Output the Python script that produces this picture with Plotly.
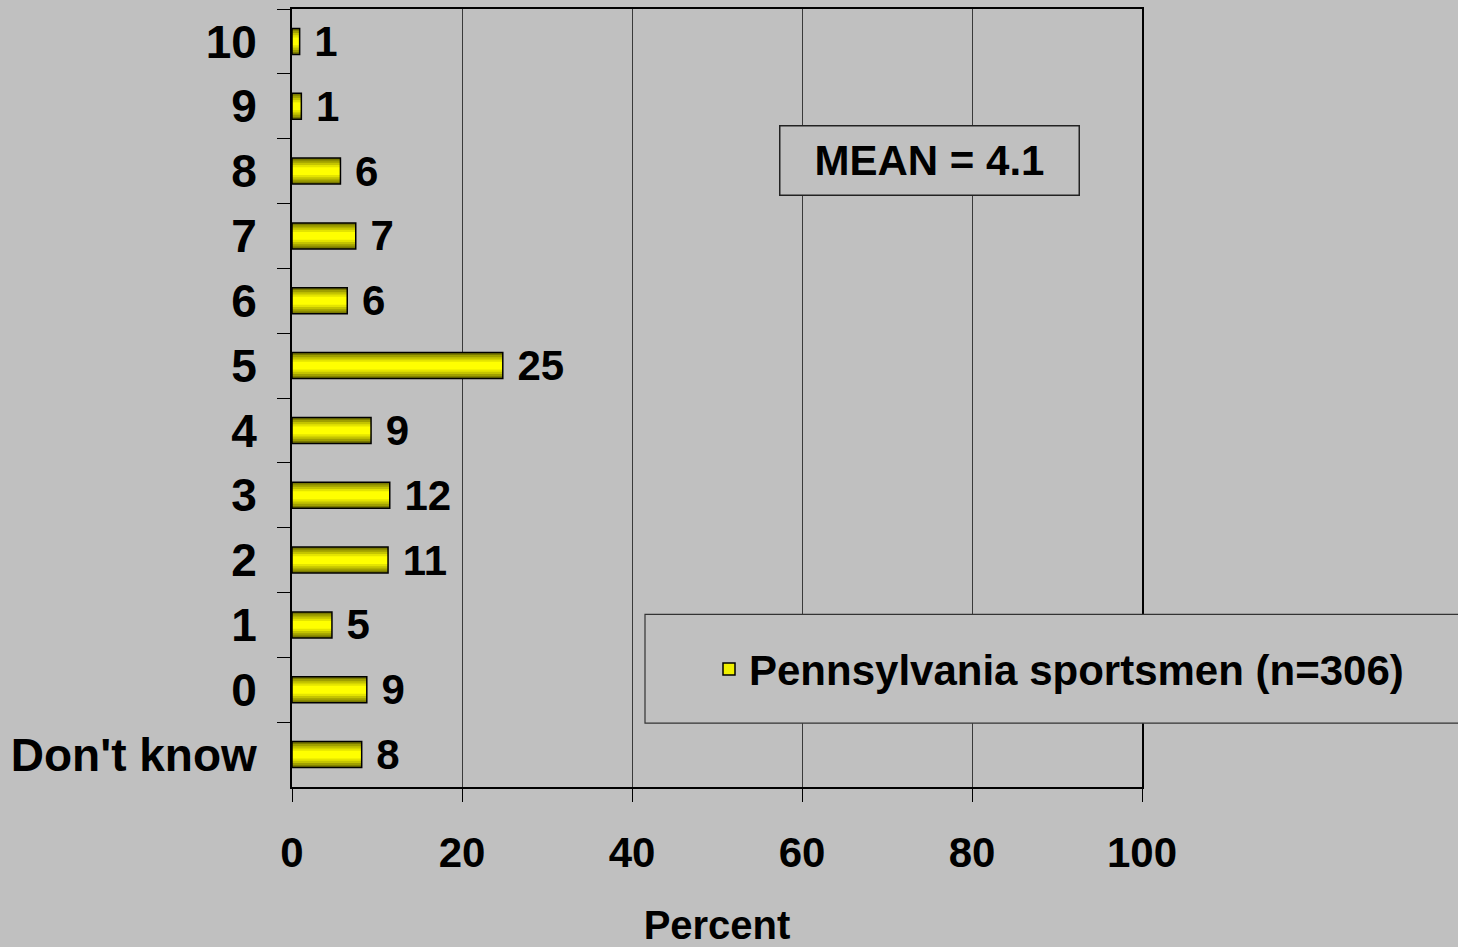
import plotly.graph_objects as go

# Data (top-to-bottom order as displayed)
categories = ["10", "9", "8", "7", "6", "5", "4", "3", "2", "1", "0", "Don't know"]
percents = [0.9, 1.1, 5.7, 7.5, 6.5, 24.8, 9.3, 11.5, 11.3, 4.7, 8.8, 8.2]
value_labels = ["1", "1", "6", "7", "6", "25", "9", "12", "11", "5", "9", "8"]
x_ticks = [0, 20, 40, 60, 80, 100]
series_name = "Pennsylvania sportsmen (n=306)"
mean_text = "MEAN = 4.1"
x_title = "Percent"

BG = "#C0C0C0"
FONT = "Liberation Sans"

# plot area in pixels
L, R, T, B = 292, 1142, 7, 787
W, H = 1458, 947

def px_x(px):
    return (px - L) / (R - L)

def px_y(py):
    return (B - py) / (B - T)

fig = go.Figure()

# gradient bars made of overlaid bars of decreasing thickness
bands = [(0.40, "#7A7A00"), (0.33, "#A0A000"), (0.26, "#C4C400"), (0.19, "#E4E400"), (0.12, "#FFFF00")]
for wdt, col in bands:
    fig.add_trace(go.Bar(
        x=percents, y=categories, orientation="h", width=wdt,
        marker=dict(color=col, line=dict(width=0)),
        showlegend=False, hoverinfo="skip",
    ))

# outline + value labels
fig.add_trace(go.Bar(
    x=percents, y=categories, orientation="h", width=0.40,
    marker=dict(color="rgba(0,0,0,0)", line=dict(color="black", width=1.5)),
    text=[" " + t for t in value_labels], textposition="outside",
    constraintext="none", cliponaxis=False,
    textfont=dict(family=FONT, size=42, color="black", weight="bold"),
    showlegend=False,
))

# legend entry
fig.add_trace(go.Bar(
    x=[None], y=[categories[0]], orientation="h", name=series_name,
    marker=dict(color="#F0F000", line=dict(color="black", width=1.5)),
    showlegend=True,
))

fig.update_layout(
    width=W, height=H,
    barmode="overlay",
    paper_bgcolor=BG, plot_bgcolor=BG,
    margin=dict(l=L, r=W - R, t=T, b=H - B, pad=0),
    font=dict(family=FONT, color="black", weight="bold"),
    xaxis=dict(
        range=[0, 100], tickvals=x_ticks, ticktext=[str(v) for v in x_ticks],
        showgrid=True, gridcolor="#3a3a3a", gridwidth=1,
        showline=True, linecolor="black", linewidth=2, mirror=True,
        ticks="outside", ticklen=13, tickcolor="black", tickwidth=1,
        tickfont=dict(family=FONT, size=42, color="black", weight="bold"),
        ticklabelstandoff=15,
        zeroline=False,
        title=dict(text=x_title, font=dict(family=FONT, size=40, color="black", weight="bold"), standoff=36),
    ),
    yaxis=dict(
        type="category", categoryorder="array", categoryarray=categories,
        autorange="reversed",
        showgrid=False, showline=True, linecolor="black", linewidth=2, mirror=True,
        ticks="outside", ticklen=13, tickcolor="black", tickwidth=1, tickson="boundaries",
        tickfont=dict(family=FONT, size=46, color="black", weight="bold"),
        ticklabelstandoff=24,
    ),
    legend=dict(
        x=px_x(709), y=px_y(669), xanchor="left", yanchor="middle",
        bgcolor="rgba(0,0,0,0)", borderwidth=0,
        font=dict(family=FONT, size=42, color="black", weight="bold"),
    ),
    shapes=[dict(
        type="rect", xref="paper", yref="paper",
        x0=px_x(645), x1=px_x(1470), y0=px_y(723), y1=px_y(614),
        fillcolor=BG, line=dict(color="#333333", width=1.2), layer="above",
    )],
    annotations=[dict(
        x=px_x(929), y=px_y(159), xref="paper", yref="paper",
        xanchor="center", yanchor="middle",
        text=mean_text, showarrow=False,
        width=298, height=68, borderpad=0,
        bgcolor=BG, bordercolor="#222222", borderwidth=1.5,
        font=dict(family=FONT, size=42, color="black", weight="bold"),
    )],
)

fig.write_html(
    "out.html",
    config={"displayModeBar": False},
    post_script="document.body.style.margin='0';document.body.style.overflow='hidden';",
)
